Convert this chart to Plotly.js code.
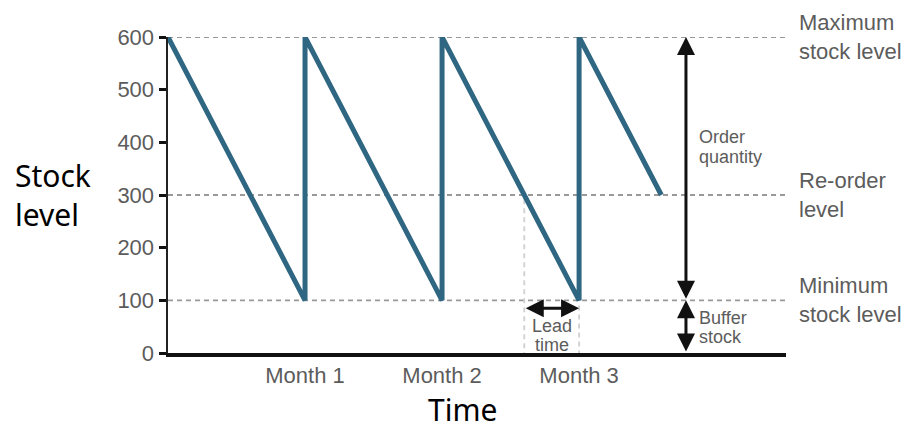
<!DOCTYPE html>
<html>
<head>
<meta charset="utf-8">
<script src="https://cdn.plot.ly/plotly-3.0.1.min.js"></script>
<style>html,body{margin:0;padding:0;background:#fff}#chart{width:910px;height:430px}</style>
</head>
<body>
<div id="chart"></div>
<script>
// Data (months vs stock level)
var timeMonths = [0, 1, 1, 2, 2, 3, 3, 3.6];
var stockLevel = [600, 100, 600, 100, 600, 100, 600, 300];
var monthTicks = [1, 2, 3];
var monthLabels = ['Month 1', 'Month 2', 'Month 3'];
var yTicks = [0, 100, 200, 300, 400, 500, 600];
var levelValues = [600, 300, 100];
var levelLabels = ['Maximum<br>stock level', 'Re-order<br>level', 'Minimum<br>stock level'];
var maxLevel = 600, reorderLevel = 300, minLevel = 100;
var reorderTime = 2.6, deliveryTime = 3;
var xMax = 4.51;

var gray = '#5c5c5c';
var sans = '"Liberation Sans", Arial, sans-serif';
var shapes = [];
levelValues.forEach(function (v) {
  shapes.push({type: 'line', xref: 'x', yref: 'y', x0: 0, x1: xMax, y0: v, y1: v,
    line: {color: '#999999', width: 1.8, dash: '5px,4px'}, layer: 'below'});
});
shapes.push({type: 'line', xref: 'x', yref: 'y', x0: reorderTime, x1: reorderTime, y0: reorderLevel - 8, y1: 0,
  line: {color: '#d0d0d0', width: 1.8, dash: '5px,4px'}, layer: 'below'});
shapes.push({type: 'line', xref: 'x', yref: 'y', x0: deliveryTime, x1: deliveryTime, y0: minLevel - 10, y1: 0,
  line: {color: '#d0d0d0', width: 1.8, dash: '5px,4px'}, layer: 'below'});

var annotations = [];
levelValues.forEach(function (v, i) {
  annotations.push({xref: 'paper', yref: 'y', x: 1.018, y: v, xanchor: 'left', yanchor: 'middle',
    text: levelLabels[i], showarrow: false, align: 'left',
    font: {family: sans, size: 22, color: gray}});
});
var arrowX = 3.78;
var arrowStyle = {showarrow: true, arrowhead: 2, startarrowhead: 2, arrowside: 'end+start',
  arrowsize: 1.2, startarrowsize: 1.2, arrowwidth: 3, arrowcolor: '#111', text: '', standoff: 0, startstandoff: 0};
annotations.push(Object.assign({xref: 'x', yref: 'y', axref: 'x', ayref: 'y',
  x: arrowX, y: maxLevel, ax: arrowX, ay: minLevel}, arrowStyle));
annotations.push(Object.assign({xref: 'x', yref: 'y', axref: 'x', ayref: 'y',
  x: arrowX, y: minLevel, ax: arrowX, ay: 0}, arrowStyle));
annotations.push(Object.assign({xref: 'x', yref: 'y', axref: 'x', ayref: 'y',
  x: deliveryTime, y: 85, ax: reorderTime, ay: 85}, arrowStyle));

function smallLine(txt, x, y, anchor) {
  annotations.push({xref: 'x', yref: 'y', x: x, y: y, xanchor: anchor, yanchor: 'middle',
    text: txt, showarrow: false, font: {family: sans, size: 18, color: gray}});
}
smallLine('Order', 3.86, 410, 'left');
smallLine('quantity', 3.86, 372, 'left');
smallLine('Buffer', 3.86, 66, 'left');
smallLine('stock', 3.86, 30, 'left');
smallLine('Lead', 2.8, 51, 'center');
smallLine('time', 2.8, 15, 'center');

annotations.push({xref: 'paper', yref: 'y', x: -0.251, y: 300, xanchor: 'left', yanchor: 'middle',
  text: 'Stock<br>level', showarrow: false, align: 'left',
  font: {family: '"Noto Sans", sans-serif', size: 30, color: '#000'}});
annotations.push({xref: 'paper', yref: 'paper', x: 0.477, y: -0.179, xanchor: 'center', yanchor: 'middle',
  text: 'Time', showarrow: false,
  font: {family: '"Noto Sans", sans-serif', size: 30, color: '#000'}});

var trace = {
  x: timeMonths, y: stockLevel, type: 'scatter', mode: 'lines',
  line: {color: '#2f6682', width: 5}, cliponaxis: false, hoverinfo: 'skip'
};

var layout = {
  width: 910, height: 430,
  margin: {l: 168, r: 124, t: 37, b: 77},
  paper_bgcolor: '#fff', plot_bgcolor: '#fff',
  showlegend: false,
  xaxis: {
    range: [0, xMax], showgrid: false, zeroline: false,
    showline: true, linecolor: '#111', linewidth: 3.5,
    tickvals: monthTicks, ticktext: monthLabels, ticks: '',
    tickfont: {family: sans, size: 22, color: gray}
  },
  yaxis: {
    range: [0, 600], showgrid: false, zeroline: false,
    showline: true, linecolor: '#222', linewidth: 2.5,
    tickvals: yTicks, ticks: 'outside', ticklen: 7, tickwidth: 3, tickcolor: '#111',
    tickfont: {family: sans, size: 22, color: gray}
  },
  shapes: shapes,
  annotations: annotations
};

Plotly.newPlot('chart', [trace], layout, {staticPlot: true, displayModeBar: false});
</script>
</body>
</html>
